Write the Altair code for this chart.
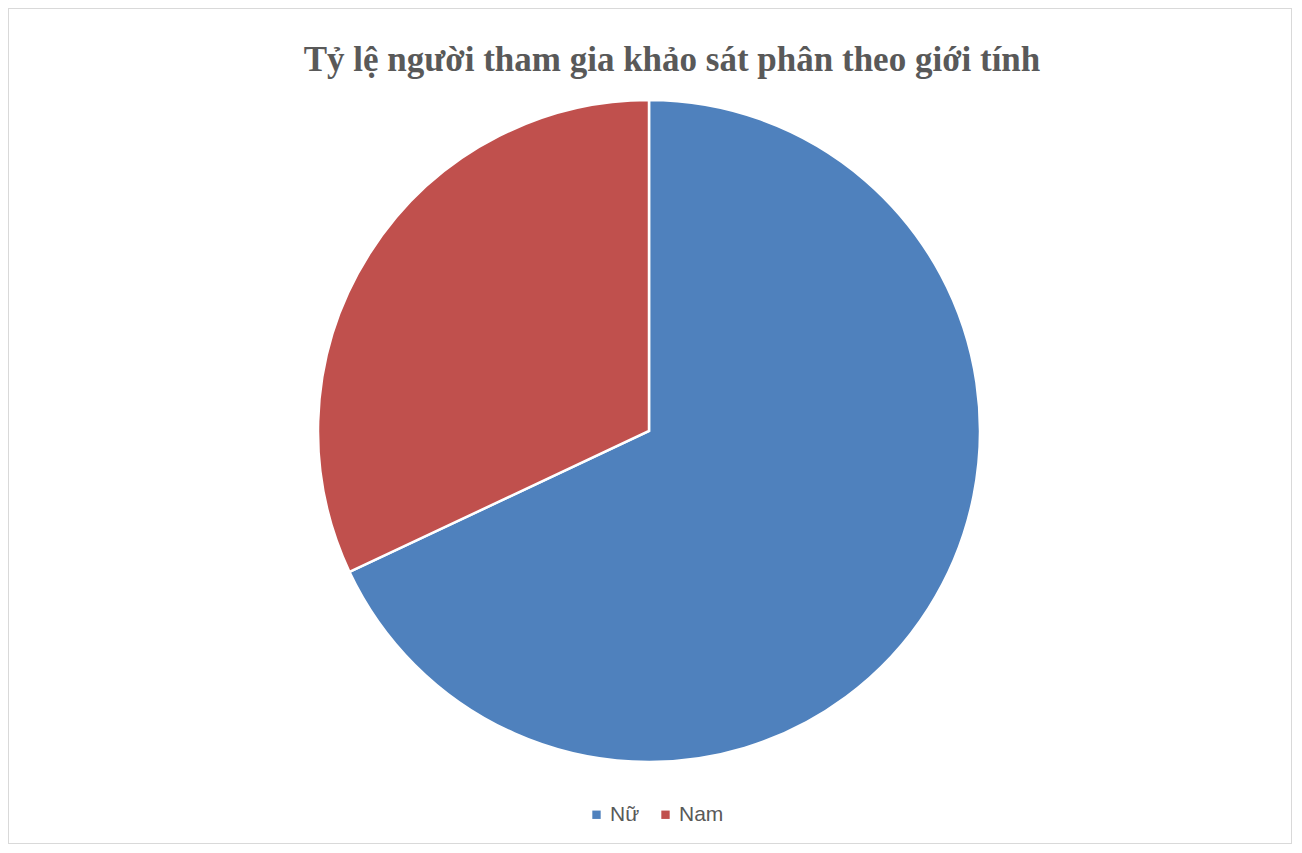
import altair as alt
import pandas as pd

categories = ["Nữ", "Nam"]
values = [68, 32]
colors = ["#4F81BD", "#C0504D"]
title_text = "Tỷ lệ người tham gia khảo sát phân theo giới tính"

df = pd.DataFrame({"gioi_tinh": categories, "ty_le": values, "thu_tu": [0, 1]})

W, H = 1284, 836

pie = alt.Chart(df).mark_arc(outerRadius=331, stroke="white", strokeWidth=2.5).encode(
    theta=alt.Theta("ty_le:Q", stack=True),
    order=alt.Order("thu_tu:Q"),
    color=alt.Color(
        "gioi_tinh:N",
        scale=alt.Scale(domain=categories, range=colors),
        sort=categories,
        legend=alt.Legend(
            title=None,
            orient="none",
            direction="horizontal",
            legendX=578,
            legendY=796,
            symbolType="square",
            symbolSize=70,
            symbolStrokeWidth=0,
            labelFont="Liberation Sans",
            labelFontSize=21,
            labelColor="#595959",
            columnPadding=15,
            labelOffset=3,
        ),
    ),
    x=alt.value(641),
    y=alt.value(423),
)

title = alt.Chart(pd.DataFrame({"t": [title_text]})).mark_text(
    font="Liberation Serif",
    fontWeight="bold",
    fontSize=35,
    color="#595959",
    align="center",
    baseline="alphabetic",
).encode(text="t:N", x=alt.value(664), y=alt.value(63))

chart = (
    alt.layer(pie, title)
    .properties(width=W, height=H, padding=0, background="white")
    .configure_view(stroke="#D9D9D9", strokeWidth=2)
)

chart.save("out.html", embed_options={"renderer": "svg", "actions": False})
